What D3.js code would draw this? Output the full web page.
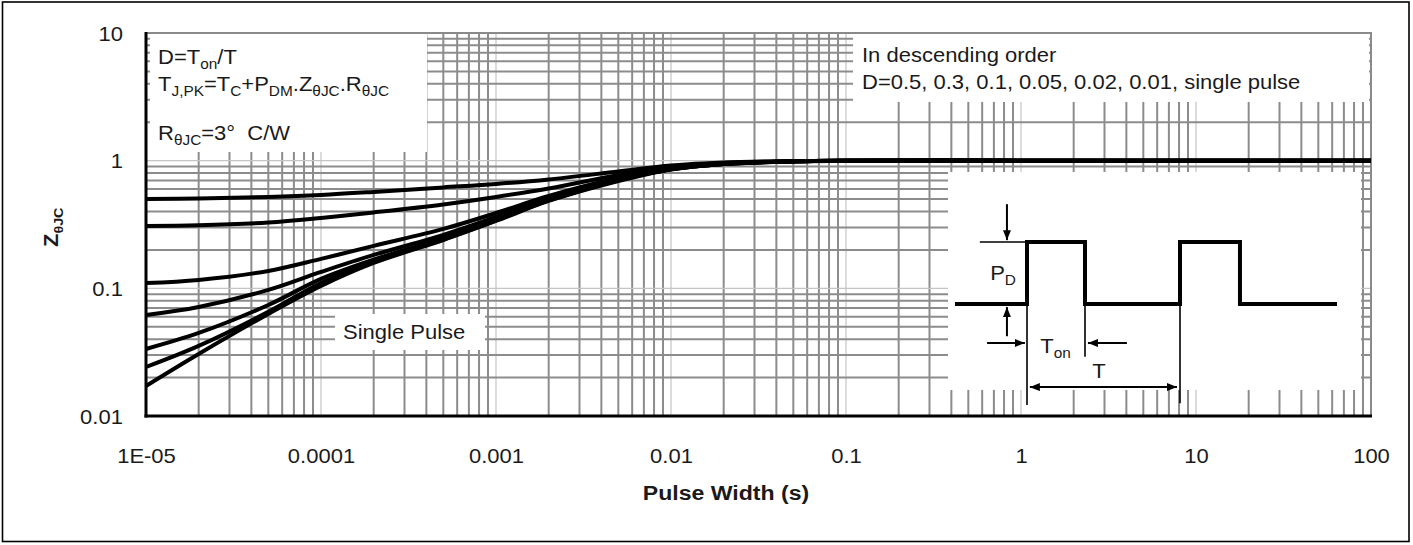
<!DOCTYPE html>
<html><head><meta charset="utf-8">
<script src="https://cdn.jsdelivr.net/npm/d3@7"></script>
<style>
body{margin:0;background:#fff}
svg{display:block}
text{font-family:"Liberation Sans",Arial,Helvetica,sans-serif;fill:#1a1a1a;white-space:pre}
</style>
</head><body><svg id="chart" width="1413" height="545"></svg>
<script>
// ---------------- data ----------------
const pulseWidths = [1e-5,2e-5,5e-5,1e-4,2e-4,5e-4,1e-3,2e-3,5e-3,1e-2,2e-2,5e-2,0.1,1,10,100];
const dutyLabels  = ["0.5","0.3","0.1","0.05","0.02","0.01","single pulse"];
const zD05    = [0.501,0.505,0.520,0.539,0.569,0.617,0.657,0.713,0.823,0.917,0.968,0.99,1,1,1,1];
const zD03    = [0.308,0.312,0.328,0.356,0.393,0.454,0.520,0.606,0.773,0.893,0.959,0.99,1,1,1,1];
const zD01    = [0.110,0.1164,0.1368,0.170,0.215,0.292,0.389,0.529,0.732,0.869,0.951,0.99,1,1,1,1];
const zD005   = [0.0619,0.0715,0.0972,0.1344,0.1826,0.262,0.362,0.506,0.719,0.861,0.942,0.99,1,1,1,1];
const zD002   = [0.0335,0.0447,0.0741,0.1185,0.168,0.248,0.346,0.492,0.706,0.856,0.942,0.988,1,1,1,1];
const zD001   = [0.0242,0.0354,0.0654,0.110,0.161,0.2415,0.340,0.488,0.700,0.855,0.942,0.988,1,1,1,1];
const zSingle = [0.0172,0.0306,0.0630,0.1044,0.158,0.239,0.337,0.4835,0.693,0.853,0.942,0.986,1,1,1,1];
const seriesList = [zD05,zD03,zD01,zD005,zD002,zD001,zSingle];
const xTickValues = [1e-5,1e-4,1e-3,1e-2,0.1,1,10,100];
const xTickLabels = ["1E-05","0.0001","0.001","0.01","0.1","1","10","100"];
const yTickValues = [0.01,0.1,1,10];
const yTickLabels = ["0.01","0.1","1","10"];

// ---------------- setup ----------------
const svg = d3.select("#chart");
const SX = 1.1; // horizontal stretch of the reference typography
const L = 146, R = 1371, T = 33, B = 416;
const x = d3.scaleLog().domain([1e-5,100]).range([L,R]);
const y = d3.scaleLog().domain([0.01,10]).range([B,T]);

// outer frame
svg.append("rect").attr("x",2.5).attr("y",2).attr("width",1406.5).attr("height",539.5)
  .attr("fill","none").attr("stroke","#000").attr("stroke-width",1.6);

// ---------------- grid ----------------
const isDecade = v => Math.abs(Math.log10(v) - Math.round(Math.log10(v))) < 1e-9;
const grid = svg.append("g");
x.ticks().filter(v => v > 1e-5 && v < 100).forEach(v => {
  grid.append("line").attr("x1",x(v)).attr("x2",x(v)).attr("y1",T).attr("y2",B)
    .attr("stroke",isDecade(v)?"#c4c4c4":"#8c8c8c").attr("stroke-width",isDecade(v)?1.2:2);
});
y.ticks().filter(v => v > 0.01 && v < 10).forEach(v => {
  grid.append("line").attr("x1",L).attr("x2",R).attr("y1",y(v)).attr("y2",y(v))
    .attr("stroke",isDecade(v)?"#c4c4c4":"#8c8c8c").attr("stroke-width",isDecade(v)?1.2:2);
});

// white annotation boxes covering the grid
const boxes = svg.append("g").attr("fill","#fff");
boxes.append("rect").attr("x",150).attr("y",T).attr("width",277).attr("height",119);
boxes.append("rect").attr("x",853).attr("y",T).attr("width",516).attr("height",69);
boxes.append("rect").attr("x",948).attr("y",172).attr("width",413).attr("height",218);
boxes.append("rect").attr("x",335).attr("y",314).attr("width",150).attr("height",36);

// plot border (gray top/right, black left/bottom)
svg.append("line").attr("x1",L).attr("x2",R+1).attr("y1",T).attr("y2",T).attr("stroke","#8a8a8a").attr("stroke-width",2);
svg.append("line").attr("x1",R).attr("x2",R).attr("y1",T).attr("y2",B).attr("stroke","#8a8a8a").attr("stroke-width",2);
svg.append("line").attr("x1",L).attr("x2",L).attr("y1",T-1).attr("y2",B+1.5).attr("stroke","#000").attr("stroke-width",3);
svg.append("line").attr("x1",L-1.5).attr("x2",R+1).attr("y1",B).attr("y2",B).attr("stroke","#000").attr("stroke-width",3);

// ---------------- curves ----------------
const line = d3.line().x(d => x(d[0])).y(d => y(d[1])).curve(d3.curveCatmullRom.alpha(0.5));
svg.append("g").selectAll("path").data(seriesList).join("path")
  .attr("d", s => line(pulseWidths.map((t,i) => [t, s[i]])))
  .attr("fill","none").attr("stroke","#000").attr("stroke-width",4)
  .attr("stroke-linejoin","round");

// ---------------- axes ----------------
const xAxis = svg.append("g").attr("transform",`translate(0,${B})`)
  .call(d3.axisBottom(x).tickValues(xTickValues).tickFormat((d,i)=>xTickLabels[i]).tickSize(0).tickPadding(33));
const yAxis = svg.append("g").attr("transform",`translate(${L},0)`)
  .call(d3.axisLeft(y).tickValues(yTickValues).tickFormat((d,i)=>yTickLabels[i]).tickSize(0).tickPadding(21));
[xAxis,yAxis].forEach(a => {
  a.select(".domain").remove();
  a.selectAll("text").attr("font-size",20).attr("fill","#1a1a1a")
    .style("font-family",'"Liberation Sans",Arial,sans-serif').attr("transform",`scale(${SX},1)`);
});
yAxis.selectAll("text").attr("dy","0.36em");

// ---------------- text helper ----------------
function rich(x0, y0, parts, opts={}) {
  const size = opts.size || 20, sub = opts.sub || 14, anchor = opts.anchor || "start";
  const t = svg.append("text")
    .attr("transform", `translate(${x0},${y0}) ${opts.rotate?`rotate(${opts.rotate}) `:""}scale(${SX},1)`)
    .attr("font-size", size).attr("text-anchor", anchor)
    .attr("font-weight", opts.bold ? "bold" : null);
  let shifted = 0;
  parts.forEach(p => {
    const isSub = Array.isArray(p);
    const txt = isSub ? p[0] : p;
    const dy = isSub ? 5 - shifted : -shifted;
    shifted = isSub ? 5 : 0;
    t.append("tspan").attr("font-size", isSub ? sub : size).attr("dy", dy).text(txt);
  });
  return t;
}

// axis titles
rich(726, 500, ["Pulse Width (s)"], {anchor:"middle", bold:true, size:21});
rich(58, 247, ["Z", ["θJC"]], {rotate:-90, bold:true, size:20, sub:13});

// top-left annotation
rich(158, 64, ["D=T", ["on"], "/T"]);
rich(158, 91, ["T", ["J,PK"], "=T", ["C"], "+P", ["DM"], ".Z", ["θJC"], ".R", ["θJC"]]);
rich(158, 140, ["R", ["θJC"], "=3°\u00a0 C/W"]);

// top-right annotation
rich(862, 62, ["In descending order"]);
rich(862, 89, ["D=" + dutyLabels.slice(0,6).join(", ") + ", " + dutyLabels[6]]);

// single pulse label
rich(343, 339, ["Single Pulse"]);

// ---------------- inset schematic ----------------
const defs = svg.append("defs");
defs.append("marker").attr("id","arr").attr("viewBox","0 0 10 8").attr("refX",10).attr("refY",4)
  .attr("markerWidth",10).attr("markerHeight",8).attr("markerUnits","userSpaceOnUse")
  .attr("orient","auto-start-reverse")
  .append("path").attr("d","M0,0L10,4L0,8z").attr("fill","#000");

const tS = d3.scaleLinear().domain([0,10]).range([955,1337]);
const lS = d3.scaleLinear().domain([0,1]).range([304,242]);
const wave = [[0,0],[1.885,0],[1.885,1],[3.403,1],[3.403,0],[5.89,0],[5.89,1],[7.46,1],[7.46,0],[10,0]];
const g = svg.append("g");
g.append("path").attr("d", d3.line().x(d=>tS(d[0])).y(d=>lS(d[1]))(wave))
  .attr("fill","none").attr("stroke","#000").attr("stroke-width",4).attr("stroke-linejoin","miter");
const seg = (t1,l1,t2,l2,w,m1,m2) => {
  const s = g.append("line").attr("x1",tS(t1)).attr("y1",lS(l1)).attr("x2",tS(t2)).attr("y2",lS(l2))
    .attr("stroke","#000").attr("stroke-width",w);
  if (m1) s.attr("marker-start","url(#arr)");
  if (m2) s.attr("marker-end","url(#arr)");
};
seg(0.65,1,1.885,1,1.6);                // P_D reference level
seg(1.36,1.61,1.36,1.03,2,false,true);  // down arrow
seg(1.36,-0.52,1.36,-0.05,2,false,true);// up arrow
seg(1.885,0,1.885,-1.63,1.6);           // leader lines
seg(3.403,0,3.403,-0.85,1.6);
seg(5.89,0,5.89,-1.6,1.6);
seg(0.84,-0.63,1.83,-0.63,2,false,true);  // T_on arrows
seg(4.5,-0.63,3.48,-0.63,2,false,true);
seg(1.96,-1.34,5.81,-1.34,2,true,true);   // period arrow

rich(tS(0.92), lS(0.39), ["P", ["D"]], {size:20, sub:14});
rich(tS(2.23), lS(-0.79), ["T", ["on"]], {size:20, sub:14});
rich(tS(3.59), lS(-1.19), ["T"], {size:20});
</script>
</body></html>
